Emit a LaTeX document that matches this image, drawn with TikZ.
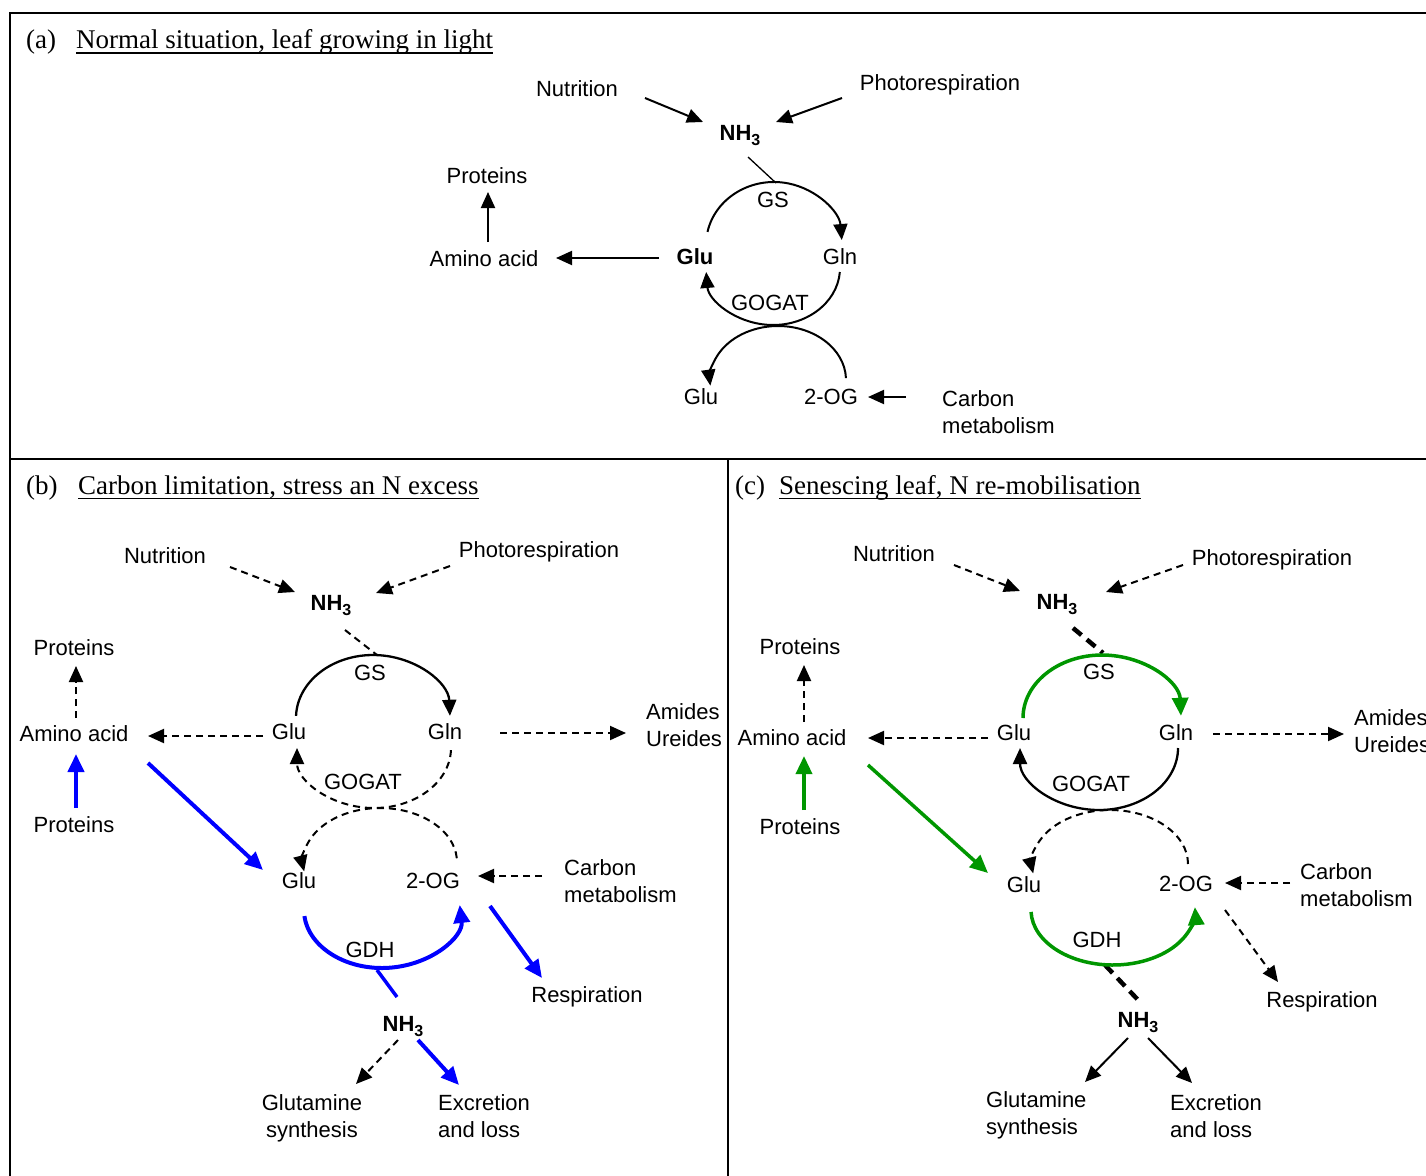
\documentclass[tikz,border=0pt]{standalone}
\usepackage{fontspec}
\setmainfont{Liberation Serif}
\newfontfamily\arialf{Liberation Sans}
\usetikzlibrary{arrows.meta}
\definecolor{gr}{RGB}{0,150,0}
\definecolor{bl}{RGB}{0,0,255}
\newcommand\earc[7]{\draw[#1] ([shift={(#6:#4 and #5)}]#2,#3) arc[start angle=#6,end angle=#7,x radius=#4,y radius=#5];}
\newcommand\nhthree{\textbf{NH\raisebox{-5pt}{\fontsize{16}{16}\selectfont 3}}}
\tikzset{
  lab/.style={font=\arialf\fontsize{22}{26}\selectfont, inner sep=0pt, text height=15.8pt, text depth=0pt},
  labb/.style={lab, font=\arialf\bfseries\fontsize{22}{26}\selectfont},
  lab2/.style={font=\arialf\fontsize{22}{27}\selectfont, inner sep=0pt, align=left, anchor=north west},
  ttl/.style={font=\fontsize{27}{32}\selectfont, inner sep=0pt, anchor=base west},
  tip/.style={-{Triangle[length=16pt,width=14pt]}},
  arr/.style={line width=2pt, tip},
  dsh/.style={line width=2pt, dash pattern=on 7pt off 5pt},
  darr/.style={dsh, tip},
  barr/.style={line width=4pt, draw=bl, -{Triangle[length=18pt,width=16pt]}},
  garr/.style={line width=3.5pt, draw=gr, -{Triangle[length=18pt,width=16pt]}},
  thd/.style={line width=4.5pt, dash pattern=on 11pt off 7pt},
  frame/.style={line width=2pt},
}
\begin{document}
\begin{tikzpicture}[x=1pt,y=-1pt]
\useasboundingbox (0,0) rectangle (1426,1175);
\clip (0,0) rectangle (1426,1175);
% frame
\draw[frame] (10,1176) -- (10,13) -- (1427,13);
\draw[frame] (10,459) -- (1427,459);
\draw[frame] (728,459) -- (728,1176);

% ================= (a)
\node[ttl] (la) at (26,48.5) {(a)};
\node[ttl] (ta) at (76,48.5) {Normal situation, leaf growing in light};
\draw[line width=1.3pt] ([yshift=-4.5pt]ta.base west) -- ([yshift=-4.5pt]ta.base east);

\node[lab] (aNut) at (577,89) {Nutrition};
\node[lab] (aPho) at (940,83) {Photorespiration};
\node[lab] (aNH) at (740,133) {\nhthree};
\node[lab] (aPro) at (487,176) {Proteins};
\node[lab] (aAA) at (484,259) {Amino acid};
\node[labb] (aGlu) at (695,257) {Glu};
\node[lab] (aGS) at (773,200) {GS};
\node[lab] (aGln) at (840,257) {Gln};
\node[lab] (aGOG) at (770,303) {GOGAT};
\node[lab] (aGlu2) at (701,397) {Glu};
\node[lab] (aOG) at (831,397) {2-OG};
\node[lab2] (aCarb) at (942,390) {Carbon\\metabolism};

\draw[arr] (645,98) -- (703,122);
\draw[arr] (842,98) -- (776,122);
\draw[line width=1.3pt] (748,157) -- (776,183);
\draw[arr] (659,258) -- (556,258);
\draw[arr] (488,242) -- (488,192);
\draw[arr] (906,397) -- (868,397);
\earc{arr}{774}{245}{68}{63}{-168}{-4.5}
\earc{arr}{773}{268}{67}{57}{4}{176}
\earc{arr}{778}{380}{68}{54}{-2}{-186}

% ================= (b)
\node[ttl] (lb) at (26,494) {(b)};
\node[ttl] (tb) at (78,494) {Carbon limitation, stress an N excess};
\draw[line width=1.3pt] ([yshift=-4.5pt]tb.base west) -- ([yshift=-4.5pt]tb.base east);

\node[lab] (bNut) at (165,556) {Nutrition};
\node[lab] (bPho) at (539,550) {Photorespiration};
\node[lab] (bNH) at (331,603) {\nhthree};
\node[lab] (bPro) at (74,648) {Proteins};
\node[lab] (bAA) at (74,734) {Amino acid};
\node[lab] (bPro2) at (74,825) {Proteins};
\node[lab] (bGS) at (370,673) {GS};
\node[lab] (bGlu) at (289,732) {Glu};
\node[lab] (bGln) at (445,732) {Gln};
\node[lab] (bGOG) at (363,782) {GOGAT};
\node[lab2] (bAm) at (646,703) {Amides\\Ureides};
\node[lab] (bGlu2) at (299,881) {Glu};
\node[lab] (bOG) at (433,881) {2-OG};
\node[lab2] (bCarb) at (564,859) {Carbon\\metabolism};
\node[lab] (bGDH) at (370,950) {GDH};
\node[lab] (bRes) at (587,995) {Respiration};
\node[lab] (bNH2) at (403,1024) {\nhthree};
\node[lab2, align=center, anchor=north] (bGlut) at (312,1094) {Glutamine\\synthesis};
\node[lab2] (bExc) at (438,1094) {Excretion\\and loss};

\draw[darr] (230,567) -- (295,592);
\draw[darr] (450,566) -- (376,593);
\draw[dsh] (345,630) -- (377,655);
\draw[darr] (263,736) -- (148,736);
\draw[darr] (76,718) -- (76,666);
\draw[barr] (76,808) -- (76,754);
\draw[barr] (148,763) -- (263,870);
\draw[darr] (500,733) -- (626,733);
\draw[darr] (542,876) -- (478,876);
\draw[barr] (490,906) -- (542,978);
\draw[line width=3.5pt, bl] (377,970) -- (397,997);
\draw[darr] (398,1040) -- (356,1084);
\draw[barr] (418,1040) -- (459,1085);
\earc{arr, line width=2.3pt}{373}{718}{77}{63}{-178}{-2}
\earc{darr}{374}{748}{77}{60}{2}{180}
\earc{darr}{380}{862}{77}{54}{-4}{-190}
\earc{barr}{382}{910}{78}{58}{174}{-5}

% ================= (c)
\node[ttl] (lc) at (735,494) {(c)};
\node[ttl] (tc) at (779,494) {Senescing leaf, N re-mobilisation};
\draw[line width=1.3pt] ([yshift=-4.5pt]tc.base west) -- ([yshift=-4.5pt]tc.base east);

\node[lab] (cNut) at (894,554) {Nutrition};
\node[lab] (cPho) at (1272,558) {Photorespiration};
\node[lab] (cNH) at (1057,602) {\nhthree};
\node[lab] (cPro) at (800,647) {Proteins};
\node[lab] (cAA) at (792,738) {Amino acid};
\node[lab] (cPro2) at (800,827) {Proteins};
\node[lab] (cGS) at (1099,672) {GS};
\node[lab] (cGlu) at (1014,733) {Glu};
\node[lab] (cGln) at (1176,733) {Gln};
\node[lab] (cGOG) at (1091,784) {GOGAT};
\node[lab2] (cAm) at (1354,709) {Amides\\Ureides};
\node[lab] (cGlu2) at (1024,885) {Glu};
\node[lab] (cOG) at (1186,884) {2-OG};
\node[lab2] (cCarb) at (1300,863) {Carbon\\metabolism};
\node[lab] (cGDH) at (1097,940) {GDH};
\node[lab] (cRes) at (1322,1000) {Respiration};
\node[lab] (cNH2) at (1138,1020) {\nhthree};
\node[lab2] (cGlut) at (986,1091) {Glutamine\\synthesis};
\node[lab2] (cExc) at (1170,1094) {Excretion\\and loss};

\draw[darr] (954,565) -- (1020,591);
\draw[darr] (1183,565) -- (1106,592);
\draw[thd] (1073,628) -- (1103,653);
\draw[darr] (988,738) -- (868,738);
\draw[darr] (804,722) -- (804,665);
\draw[garr] (804,810) -- (804,756);
\draw[garr] (868,765) -- (988,873);
\draw[darr] (1213,734) -- (1344,734);
\draw[darr] (1290,883) -- (1225,883);
\draw[darr] (1225,910) -- (1278,982);
\draw[thd] (1105,965) -- (1140,1002);
\draw[arr] (1128,1038) -- (1085,1082);
\draw[arr] (1148,1038) -- (1192,1083);
\earc{garr}{1102}{718}{79}{63}{-180}{-2}
\earc{arr, line width=2.3pt}{1099}{748}{79}{62}{0}{180}
\earc{darr}{1110}{864}{78}{54}{0}{-190}
\earc{garr}{1113}{910}{82}{55}{178}{-3}
\end{tikzpicture}
\end{document}
